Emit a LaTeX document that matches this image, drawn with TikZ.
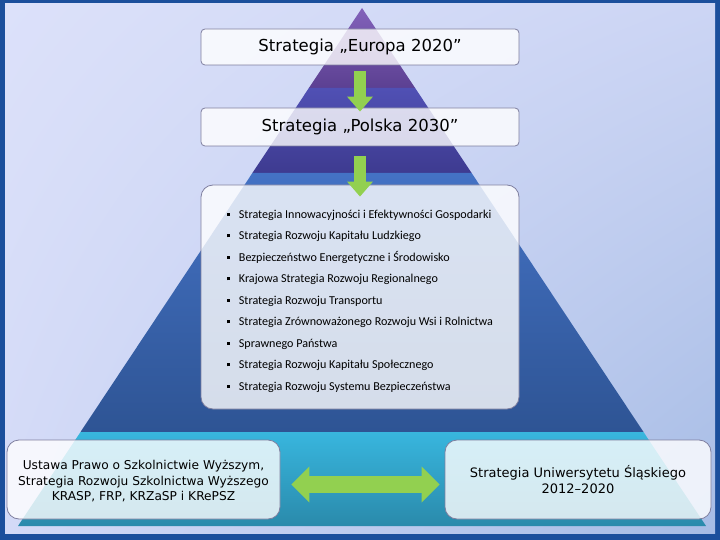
\documentclass[tikz,border=0pt]{standalone}
\usepackage{fontspec}
\setmainfont{DejaVu Sans}
\newfontfamily\listafont{Carlito}
\usetikzlibrary{arrows.meta,shadings}

\definecolor{ramka}{HTML}{1B4F9C}
\definecolor{tloA}{HTML}{DCE1FA}
\definecolor{tloB}{HTML}{CCD5F4}
\definecolor{tloC}{HTML}{D3DAF7}
\definecolor{tloD}{HTML}{A6BCE5}
\definecolor{fioletA}{HTML}{8262BA}
\definecolor{fioletB}{HTML}{5C4092}
\definecolor{indygoA}{HTML}{5050B4}
\definecolor{indygoB}{HTML}{3E3B90}
\definecolor{niebieskiA}{HTML}{4472C4}
\definecolor{niebieskiB}{HTML}{2E5494}
\definecolor{cyjanA}{HTML}{38B6DE}
\definecolor{cyjanB}{HTML}{2A8AAB}
\definecolor{obrys}{HTML}{7F7F9F}
\definecolor{zielony}{HTML}{92D050}

\newcommand{\punkt}{\makebox[12pt][l]{\rule[2.5pt]{3pt}{3pt}}}

\tikzset{
  pole/.style={draw=obrys, line width=0.8pt, fill=white, fill opacity=0.8, text opacity=1,
    rounded corners=4pt, minimum width=318pt, inner sep=0pt},
  duzepole/.style={pole, rounded corners=12pt},
  strzalka/.style={draw=zielony, line width=12pt, -{Triangle[width=25pt,length=15pt]}},
  dwustrzalka/.style={draw=zielony, line width=17pt, {Triangle[width=35pt,length=18pt]}-{Triangle[width=35pt,length=18pt]}}
}

\begin{document}
\begin{tikzpicture}[x=1pt,y=-1pt]
    \useasboundingbox (0,0) rectangle (720,540);
    %Tlo
    \fill[ramka] (0,0) rectangle (720,540);
    \shade[upper left=tloA, upper right=tloB, lower left=tloC, lower right=tloD] (5,4) rectangle (715,533);
    %Piramida
    \shade[top color=fioletA, bottom color=fioletB] (362,8) -- (415.1,88) -- (308.9,88) -- cycle;
    \shade[top color=indygoA, bottom color=indygoB] (308.9,88) -- (415.1,88) -- (471.6,173) -- (252.4,173) -- cycle;
    \shade[top color=niebieskiA, bottom color=niebieskiB] (252.4,173) -- (471.6,173) -- (643.5,432) -- (80.5,432) -- cycle;
    \shade[top color=cyjanA, bottom color=cyjanB] (80.5,432) -- (643.5,432) -- (706,526) -- (18,526) -- cycle;
    %Pola
    \node[pole, minimum height=36pt] (europa) at (360,47)
        {\fontsize{16.5}{20}\selectfont Strategia „Europa 2020”};
    \node[pole, minimum height=38pt] (polska) at (360,127)
        {\fontsize{16.5}{20}\selectfont Strategia „Polska 2030”};
    \node[duzepole, minimum height=224pt, align=left, font=\listafont\fontsize{12.1}{21.5}\selectfont] (lista) at (360,297)
        {\rule{0pt}{17pt}\punkt Strategia Innowacyjności i Efektywności Gospodarki\\
         \punkt Strategia Rozwoju Kapitału Ludzkiego\\
         \punkt Bezpieczeństwo Energetyczne i Środowisko\\
         \punkt Krajowa Strategia Rozwoju Regionalnego\\
         \punkt Strategia Rozwoju Transportu\\
         \punkt Strategia Zrównoważonego Rozwoju Wsi i Rolnictwa\\
         \punkt Sprawnego Państwa\\
         \punkt Strategia Rozwoju Kapitału Społecznego\\
         \punkt Strategia Rozwoju Systemu Bezpieczeństwa};
    \node[duzepole, minimum width=273pt, minimum height=79pt, align=center, font=\fontsize{12.2}{15.5}\selectfont] (ustawa) at (143.5,479.5)
        {\rule{0pt}{13pt}Ustawa Prawo o Szkolnictwie Wyższym,\\ Strategia Rozwoju Szkolnictwa Wyższego\\ KRASP, FRP, KRZaSP i KRePSZ};
    \node[duzepole, minimum width=266pt, minimum height=79pt, align=center, font=\fontsize{13}{16}\selectfont] (uczelnia) at (578,479.5)
        {Strategia Uniwersytetu Śląskiego\\ 2012–2020};
    %Strzalki
    \draw[strzalka] ([yshift=-6pt]europa.south) -- ([yshift=-4pt]polska.north);
    \draw[strzalka] ([yshift=-10pt]polska.south) -- ([yshift=-12pt]lista.north);
    \draw[dwustrzalka] ([xshift=11pt,yshift=-5pt]ustawa.east) -- ([xshift=-5pt,yshift=-5pt]uczelnia.west);
\end{tikzpicture}
\end{document}
